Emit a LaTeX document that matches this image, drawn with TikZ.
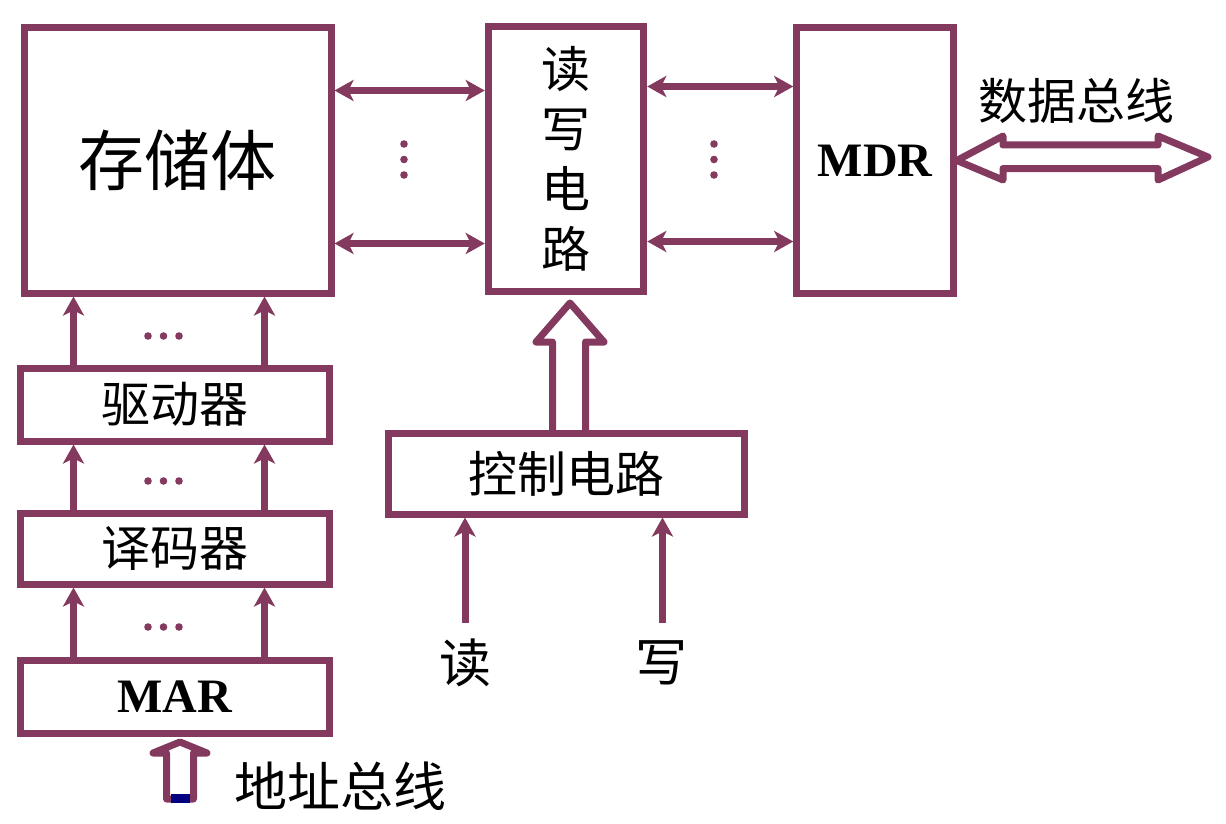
\documentclass[tikz,border=0pt]{standalone}
\usepackage{fontspec}
\setmainfont{Liberation Serif}
\newfontfamily\cjk{Noto Sans CJK SC}
\usetikzlibrary{arrows.meta}
\definecolor{frame}{RGB}{132,58,94}
\definecolor{plug}{RGB}{0,0,128}
\begin{document}
\begin{tikzpicture}[x=1pt,y=-1pt,
  box/.style={draw=frame, line width=7pt, rectangle, inner sep=0pt},
  arr/.style={draw=frame, line width=7pt, -{Stealth[length=19pt,width=21pt,inset=5pt]}},
  darr/.style={draw=frame, line width=7pt, {Stealth[length=19pt,width=21pt,inset=5pt]}-{Stealth[length=19pt,width=21pt,inset=5pt]}},
  hollow/.style={draw=frame, line width=7pt, line join=round, line cap=round},
  dot/.style={fill=frame},
  big/.style={font=\cjk\fontsize{66}{70}\selectfont},
  mid/.style={font=\cjk\fontsize{49}{60}\selectfont},
  lat/.style={font=\bfseries\fontsize{48}{50}\selectfont}]
\useasboundingbox (0,0) rectangle (1226,824);

% main blocks
\node[box, big, minimum width=307pt, minimum height=265pt] (store) at (177.5,160.5) {存储体};
\node[box, mid, align=center, minimum width=155.5pt, minimum height=264.5pt] (rw) at (566,158.75) {读\\写\\电\\路};
\node[box, lat, minimum width=156.5pt, minimum height=265pt] (mdr) at (875,160.5) {MDR};

% address path
\node[box, mid, minimum width=309.5pt, minimum height=73pt] (drv) at (174.75,404.5) {驱动器};
\node[box, mid, minimum width=309.5pt, minimum height=70.5pt] (dec) at (174.75,548.75) {译码器};
\node[box, lat, minimum width=309.5pt, minimum height=72.5pt] (mar) at (174.75,696.75) {MAR};

% control
\node[box, mid, minimum width=355.5pt, minimum height=80.5pt] (ctl) at (566.25,473.75) {控制电路};

% labels
\node[mid] (busd) at (1076,101) {数据总线};
\node[font=\cjk\fontsize{53}{60}\selectfont] (busa) at (340,786) {地址总线};
\node[font=\cjk\fontsize{52}{60}\selectfont] (rdl) at (465,663) {读};
\node[font=\cjk\fontsize{52}{60}\selectfont] (wrl) at (661,663) {写};

% column positions of the vertical links
\coordinate (cL) at (73.5,0);
\coordinate (cR) at (264.5,0);
\coordinate (rdin) at (465,623);
\coordinate (wrin) at (662.5,623);

% vertical links of the address path
\foreach \c in {cL,cR}{
  \draw[arr] (mar.north -| \c) -- (dec.south -| \c);
  \draw[arr] (dec.north -| \c) -- (drv.south -| \c);
  \draw[arr] (drv.north -| \c) -- (store.south -| \c);
}
\foreach \y in {336,481,627}{
  \fill[dot] (148,\y) circle (3.8);
  \fill[dot] (163.5,\y) circle (3.8);
  \fill[dot] (179,\y) circle (3.8);
}

% bit lines between storage, read/write circuit and MDR
\coordinate (y1) at (0,90.5);
\coordinate (y2) at (0,243.5);
\coordinate (y3) at (0,86.5);
\coordinate (y4) at (0,241.5);
\draw[darr] (store.east |- y1) -- (rw.west |- y1);
\draw[darr] (store.east |- y2) -- (rw.west |- y2);
\draw[darr] (rw.east |- y3) -- (mdr.west |- y3);
\draw[darr] (rw.east |- y4) -- (mdr.west |- y4);
\foreach \y in {144,159.5,175}{
  \fill[dot] (404,\y) circle (3.8);
  \fill[dot] (714,\y) circle (3.8);
}

% read / write inputs
\draw[arr] (rdin) -- (ctl.south -| rdin);
\draw[arr] (wrin) -- (ctl.south -| wrin);

% wide arrow from control circuit to read/write circuit
\draw[hollow] (ctl.north -| 552.5,0) -- (552.5,342) -- (536,342) -- (570,303)
  -- (604,342) -- (585.5,342) -- (ctl.north -| 585.5,0);

% data bus
\draw[hollow] (mdr.east) -- (1003,136) -- (1003,145) -- (1158,145) -- (1158,136)
  -- (1208,157) -- (1158,180) -- (1158,168.5) -- (1003,168.5) -- (1003,180) -- cycle;

% address bus
\draw[hollow] (166.5,799) -- (166.5,753) -- (153,753) -- (180,742)
  -- (207,753) -- (193.5,753) -- (193.5,799) -- cycle;
\fill[plug] (171,794) rectangle (190,803);
\end{tikzpicture}
\end{document}
